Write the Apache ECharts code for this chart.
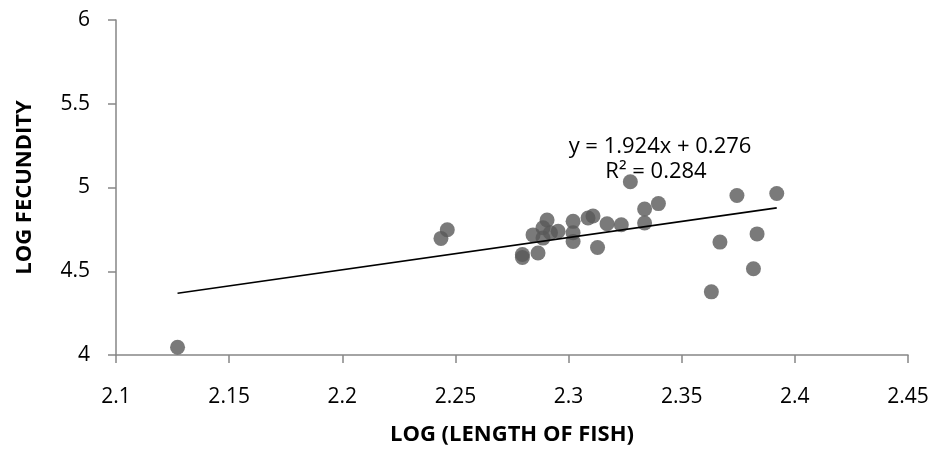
<!DOCTYPE html>
<html>
<head>
<meta charset="utf-8">
<title>Log fecundity vs log length</title>
<script src="https://cdn.jsdelivr.net/npm/echarts@6/dist/echarts.min.js"></script>
<style>
  html, body { margin: 0; padding: 0; background: #ffffff; }
  #chart { width: 939px; height: 454px; }
</style>
</head>
<body>
<div id="chart"></div>
<script>
// Log of fish length (x) and log of fecundity (y) for each fish sampled
const logLength = [
  2.1272, 2.2436, 2.2464, 2.2796, 2.2796, 2.2865, 2.2843, 2.2905, 2.2887, 2.2887,
  2.2954, 2.2920, 2.3020, 2.3020, 2.3020, 2.3086, 2.3108, 2.3128, 2.3170, 2.3233,
  2.3273, 2.3336, 2.3336, 2.3397, 2.3744, 2.3920, 2.3669, 2.3833, 2.3817, 2.3631
];
const logFecundity = [
  4.046, 4.696, 4.748, 4.582, 4.600, 4.609, 4.717, 4.806, 4.760, 4.698,
  4.739, 4.730, 4.798, 4.730, 4.678, 4.818, 4.830, 4.642, 4.784, 4.778,
  5.034, 4.872, 4.788, 4.904, 4.952, 4.964, 4.674, 4.723, 4.515, 4.377
];

// Linear trend line fitted to the points
const slope = 1.924;
const intercept = 0.276;
const rSquared = 0.284;

// Axis settings
const xTicks = { min: 2.1, max: 2.45, step: 0.05 };
const yTicks = { min: 4, max: 6, step: 0.5 };

const points = logLength.map((x, i) => [x, logFecundity[i]]);
const xLo = Math.min(...logLength);
const xHi = Math.max(...logLength);
const trend = [xLo, xHi].map(x => [x, slope * x + intercept]);

const axisGrey = '#868686';
const font = '"Open Sans", "Liberation Sans", sans-serif';

const chart = echarts.init(document.getElementById('chart'), null, { renderer: 'canvas' });
chart.setOption({
  animation: false,
  backgroundColor: '#ffffff',
  grid: { left: 116, right: 31, top: 20, bottom: 99, containLabel: false },
  xAxis: {
    type: 'value',
    min: xTicks.min, max: xTicks.max, interval: xTicks.step,
    name: 'LOG (LENGTH OF FISH)',
    nameLocation: 'middle',
    nameGap: 69,
    nameTextStyle: { fontFamily: font, fontWeight: 'bold', fontSize: 22, color: '#000' },
    axisLine: { show: true, onZero: false, lineStyle: { color: axisGrey, width: 1.5 } },
    axisTick: { show: true, inside: false, length: 8, lineStyle: { color: axisGrey, width: 1.5 } },
    axisLabel: { margin: 32, fontFamily: font, fontSize: 21, color: '#000',
      formatter: v => String(+v.toFixed(2)) },
    splitLine: { show: false }
  },
  yAxis: {
    type: 'value',
    min: yTicks.min, max: yTicks.max, interval: yTicks.step,
    name: 'LOG FECUNDITY',
    nameLocation: 'middle',
    nameGap: 80,
    nameRotate: 90,
    nameTextStyle: { fontFamily: font, fontWeight: 'bold', fontSize: 22, color: '#000' },
    axisLine: { show: true, onZero: false, lineStyle: { color: axisGrey, width: 1.5 } },
    axisTick: { show: true, inside: false, length: 8, lineStyle: { color: axisGrey, width: 1.5 } },
    axisLabel: { margin: 26, fontFamily: font, fontSize: 21, color: '#000',
      formatter: v => String(+v.toFixed(1)) },
    splitLine: { show: false }
  },
  graphic: [
    {
      type: 'text', z: 0,
      position: [660, 147],
      style: {
        text: 'y = ' + slope.toFixed(3) + 'x + ' + intercept.toFixed(3),
        font: '22px ' + font, fill: '#000',
        textAlign: 'center', textVerticalAlign: 'middle'
      }
    },
    {
      type: 'text', z: 0,
      position: [656, 172],
      style: {
        text: 'R² = ' + rSquared.toFixed(3),
        font: '22px ' + font, fill: '#000',
        textAlign: 'center', textVerticalAlign: 'middle'
      }
    }
  ],
  series: [
    {
      type: 'scatter',
      data: points,
      symbol: 'circle',
      symbolSize: 15,
      itemStyle: { color: '#595959' },
      z: 3
    },
    {
      type: 'line',
      data: trend,
      symbol: 'none',
      lineStyle: { color: '#000000', width: 1.6 },
      z: 4,
      silent: true
    }
  ]
});
</script>
</body>
</html>
